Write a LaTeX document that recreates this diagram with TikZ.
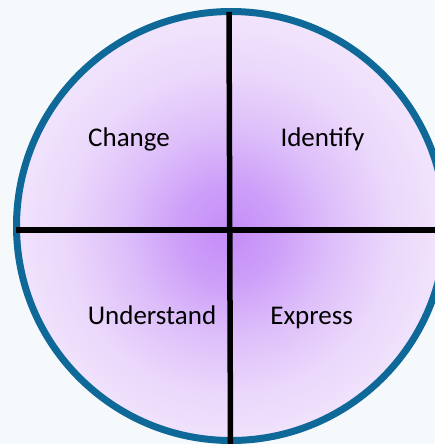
\documentclass[tikz,border=0pt]{standalone}
\usepackage{fontspec}
\setmainfont{Carlito}
\definecolor{bgc}{RGB}{245,249,251}
\definecolor{ringc}{RGB}{14,104,152}
\definecolor{pc0}{RGB}{196,140,248}
\definecolor{pc1}{RGB}{206,160,249}
\definecolor{pc2}{RGB}{221,190,250}
\definecolor{pc3}{RGB}{235,216,251}
\definecolor{pc4}{RGB}{242,229,252}
\definecolor{pc5}{RGB}{246,236,253}
\pgfdeclareradialshading{quadshade}{\pgfpoint{-0.35bp}{-0.9bp}}{%
  color(0bp)=(pc0); color(6bp)=(pc1); color(12bp)=(pc2); color(19bp)=(pc3);
  color(26bp)=(pc4); color(34bp)=(pc5); color(100bp)=(pc5)}
\tikzset{
  ring/.style={draw=ringc, line width=7pt, shading=quadshade},
  crossline/.style={draw=black, line width=5.5pt},
  lbl/.style={anchor=base, inner sep=0pt, font=\fontsize{27}{31}\selectfont, text=black}
}
\begin{document}
\begin{tikzpicture}[x=1pt,y=-1pt]
  \useasboundingbox (0,0) rectangle (435,444);
  \fill[bgc] (0,0) rectangle (435,444);
  \begin{scope}
    \clip (0,0) rectangle (435,444);
    \path[ring] (231,226) circle[radius=214.5];
  \end{scope}
  \coordinate (vt) at (229,12);
  \coordinate (vb) at (230.5,446);
  \coordinate (hl) at (16,230);
  \coordinate (hr) at (437,230);
  \draw[crossline] (vt) -- (vb);
  \draw[crossline] (hl) -- (hr);
  \node[lbl] (ch) at (129,146) {Change};
  \node[lbl] (id) at (322.5,146) {Identify};
  \node[lbl] (un) at (152,324) {Understand};
  \node[lbl] (ex) at (311.7,324) {Express};
\end{tikzpicture}
\end{document}
